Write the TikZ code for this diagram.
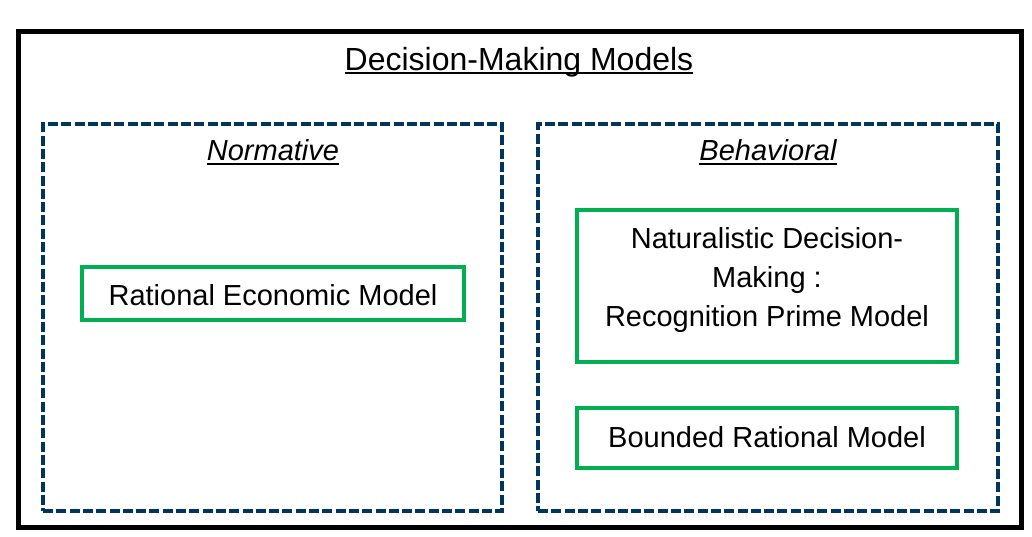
\documentclass[tikz,border=0pt]{standalone}
\usepackage{fontspec}
\setmainfont{Liberation Sans}
\newsavebox{\ulbox}
\newcommand{\ulined}[1]{\sbox{\ulbox}{#1}\rlap{\rule[-4pt]{\wd\ulbox}{2pt}}\usebox{\ulbox}}
\definecolor{navy}{RGB}{0,54,94}
\definecolor{boxgreen}{RGB}{0,176,80}

\begin{document}
\begin{tikzpicture}[x=1pt,y=-1pt,
  outerbox/.style={rectangle,draw=black,line width=5pt,minimum width=1003pt,minimum height=495pt,inner sep=0pt},
  groupbox/.style={rectangle,draw=navy,line width=4pt,dash pattern=on 10pt off 3.3pt,minimum width=459pt,minimum height=387pt,inner sep=0pt},
  modelbox/.style={rectangle,draw=boxgreen,line width=4pt,minimum width=380pt,inner sep=0pt,align=center},
  txt/.style={font=\fontsize{29}{39}\selectfont,align=center}]
\useasboundingbox (0,0) rectangle (1032,537);
\path (519.5,279.5) node[outerbox] (frame) {};
\path (519,62) node[txt,font=\fontsize{32}{39}\selectfont] (title) {\ulined{Decision-Making Models}};

\path (272.5,317.5) node[groupbox] (norm) {};
\path (273,152) node[txt] (normlabel) {\ulined{\itshape Normative}};
\path (273,293.5) node[modelbox,minimum width=382pt,minimum height=53pt] (rational) {};
\path (273,295.5) node[txt] (rationaltext) {Rational Economic Model};

\path (768,317.5) node[groupbox,minimum width=460pt] (behav) {};
\path (768,152) node[txt] (behavlabel) {\ulined{\itshape Behavioral}};
\path (767,286) node[modelbox,minimum height=152pt] (natural) {};
\path (767,280) node[txt] (naturaltext) {Naturalistic Decision-\\Making :\\Recognition Prime Model};
\path (767,438) node[modelbox,minimum height=60pt] (bounded) {};
\path (767,437) node[txt] (boundedtext) {Bounded Rational Model};
\end{tikzpicture}
\end{document}
